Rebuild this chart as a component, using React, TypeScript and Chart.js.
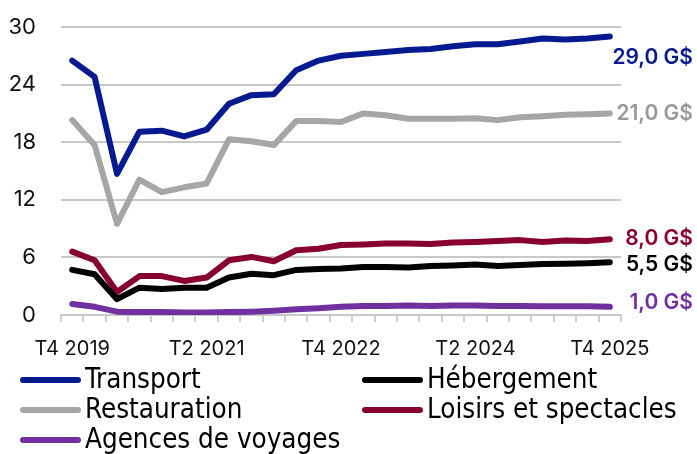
import React, { useEffect, useRef } from "react";
import { Chart, registerables } from "chart.js";

Chart.register(...registerables);

const quarters = [
  "T4 2019", "T1 2020", "T2 2020", "T3 2020", "T4 2020",
  "T1 2021", "T2 2021", "T3 2021", "T4 2021",
  "T1 2022", "T2 2022", "T3 2022", "T4 2022",
  "T1 2023", "T2 2023", "T3 2023", "T4 2023",
  "T1 2024", "T2 2024", "T3 2024", "T4 2024",
  "T1 2025", "T2 2025", "T3 2025", "T4 2025",
];

const shownTicks = ["T4 2019", "T2 2021", "T4 2022", "T2 2024", "T4 2025"];

const transport = [26.5, 24.8, 14.7, 19.1, 19.2, 18.6, 19.3, 22.0, 22.9, 23.0, 25.5, 26.5, 27.0, 27.2, 27.4, 27.6, 27.7, 28.0, 28.2, 28.2, 28.5, 28.8, 28.7, 28.8, 29.0];
const hebergement = [4.7, 4.25, 1.65, 2.85, 2.7, 2.85, 2.85, 3.9, 4.3, 4.15, 4.7, 4.8, 4.85, 5.0, 5.0, 4.95, 5.1, 5.15, 5.25, 5.1, 5.2, 5.3, 5.35, 5.4, 5.5];
const restauration = [20.3, 17.7, 9.5, 14.1, 12.8, 13.3, 13.7, 18.3, 18.1, 17.7, 20.2, 20.2, 20.1, 21.0, 20.8, 20.45, 20.45, 20.45, 20.5, 20.3, 20.6, 20.7, 20.85, 20.9, 21.0];
const loisirs = [6.6, 5.7, 2.4, 4.05, 4.05, 3.55, 3.9, 5.7, 6.05, 5.6, 6.75, 6.9, 7.3, 7.35, 7.45, 7.45, 7.4, 7.55, 7.6, 7.7, 7.8, 7.6, 7.75, 7.7, 7.9];
const agences = [1.15, 0.85, 0.35, 0.3, 0.3, 0.25, 0.25, 0.3, 0.35, 0.45, 0.6, 0.7, 0.85, 0.95, 0.95, 1.0, 0.95, 1.0, 1.0, 0.95, 0.95, 0.9, 0.9, 0.9, 0.85];

const seriesNames = ["Transport", "Hébergement", "Restauration", "Loisirs et spectacles", "Agences de voyages"];
const seriesValues = [transport, hebergement, restauration, loisirs, agences];
const seriesColors = ["#061a8f", "#000000", "#a6a6a6", "#870030", "#7030a0"];
const labelColors = ["#061a8f", "#000000", "#999999", "#870030", "#7030a0"];
const endLabels = ["29,0 G$", "5,5 G$", "21,0 G$", "8,0 G$", "1,0 G$"];
const endLabelShift = [21, 2, 0, 0, -4];

const TICK_FONT = "Inter, 'Noto Sans', sans-serif";
const LEGEND_FONT = "'DejaVu Sans Condensed', 'Liberation Sans Narrow', sans-serif";

const endLabelPlugin = {
  id: "endLabels",
  afterDatasetsDraw(chart: any) {
    const ctx = chart.ctx;
    ctx.save();
    ctx.font = `600 21px ${TICK_FONT}`;
    ctx.textAlign = "right";
    ctx.textBaseline = "middle";
    chart.data.datasets.forEach((ds: any, i: number) => {
      const meta = chart.getDatasetMeta(i);
      const pt = meta.data[meta.data.length - 1];
      if (!pt) return;
      ctx.fillStyle = labelColors[i];
      ctx.fillText(endLabels[i], chart.width - 4, pt.y + endLabelShift[i]);
    });
    ctx.restore();
  },
};

const legendPlugin = {
  id: "gridLegend",
  afterDraw(chart: any) {
    const ctx = chart.ctx;
    ctx.save();
    ctx.font = `27.5px ${LEGEND_FONT}`;
    ctx.textBaseline = "middle";
    ctx.textAlign = "left";
    const cols = [20, 362];
    const rowTop = 380;
    const rowH = 30;
    chart.data.datasets.forEach((ds: any, i: number) => {
      const x = cols[i % 2];
      const y = rowTop + Math.floor(i / 2) * rowH;
      ctx.strokeStyle = ds.borderColor;
      ctx.lineWidth = 6;
      ctx.lineCap = "round";
      ctx.beginPath();
      ctx.moveTo(x + 3, y);
      ctx.lineTo(x + 58, y);
      ctx.stroke();
      ctx.fillStyle = "#000";
      ctx.fillText(ds.label, x + 65, y + 1);
    });
    ctx.restore();
  },
};

export default function App() {
  const ref = useRef<HTMLCanvasElement | null>(null);
  useEffect(() => {
    if (!ref.current) return;
    const chart = new Chart(ref.current, {
      type: "line",
      data: {
        labels: quarters,
        datasets: seriesNames.map((name, i) => ({
          label: name,
          data: seriesValues[i],
          borderColor: seriesColors[i],
          backgroundColor: seriesColors[i],
          borderWidth: 6,
          pointRadius: 0,
          tension: 0,
          borderJoinStyle: "round" as const,
          borderCapStyle: "round" as const,
          order: i === 0 ? -1 : i,
        })),
      },
      options: {
        animation: false,
        responsive: false,
        layout: { padding: { top: 27, right: 76, left: 0, bottom: 0 } },
        plugins: {
          legend: { display: false },
          tooltip: { enabled: false },
        },
        scales: {
          x: {
            offset: true,
            grid: {
              offset: true,
              drawOnChartArea: false,
              drawTicks: true,
              tickLength: 7,
              color: "#d0d0d0",
              lineWidth: 2,
            },
            border: { display: true, color: "#c8c8c8", width: 2 },
            ticks: {
              autoSkip: false,
              maxRotation: 0,
              padding: 15,
              color: "#111",
              font: { family: TICK_FONT, size: 20 },
              callback: function (this: any, value: any, index: number) {
                const lab = quarters[index];
                return shownTicks.includes(lab) ? lab : "";
              },
            },
            afterFit(scale: any) {
              scale.height = 139;
            },
          },
          y: {
            min: 0,
            max: 30,
            ticks: {
              stepSize: 6,
              padding: 25,
              color: "#111",
              font: { family: TICK_FONT, size: 22 },
            },
            grid: {
              drawTicks: false,
              color: "#c8c8c8",
              lineWidth: 2,
            },
            border: { display: false },
            afterFit(scale: any) {
              scale.width = 61;
              scale.paddingTop = 0;
              scale.paddingBottom = 0;
            },
          },
        },
      },
      plugins: [endLabelPlugin, legendPlugin],
    });
    return () => chart.destroy();
  }, []);
  return (
    <div style={{ position: "absolute", left: 0, top: 0, width: 697, height: 454, background: "#fff" }}>
      <canvas ref={ref} width={697} height={454} />
    </div>
  );
}
